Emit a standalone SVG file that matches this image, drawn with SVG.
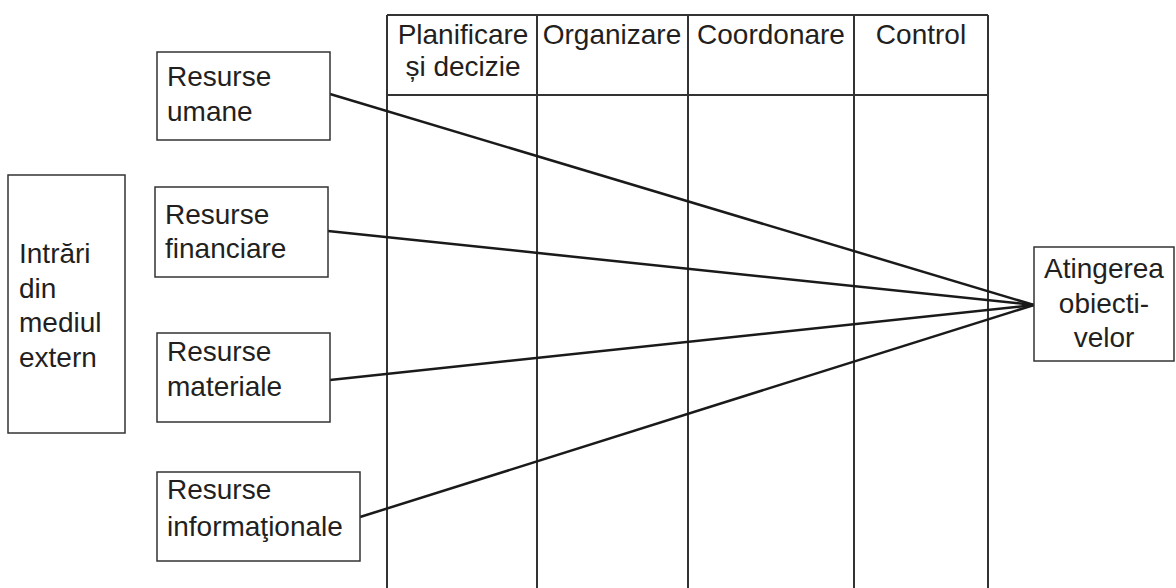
<svg xmlns="http://www.w3.org/2000/svg" width="1176" height="588" viewBox="0 0 1176 588">
<style>
.box{fill:#fff;stroke:#333;stroke-width:1.5}
.t{font-family:"Liberation Sans",Arial,sans-serif;font-size:28px;fill:#231f20}
.c{text-anchor:middle}
.grid{stroke:#333;stroke-width:2;fill:none}
.con{stroke:#1a1a1a;stroke-width:2.5;fill:none}
</style>
<rect width="1176" height="588" fill="#fff"/>
<g id="table">
<line class="grid" x1="387" y1="15" x2="988" y2="15"/>
<line class="grid" x1="387" y1="95" x2="988" y2="95" stroke-width="2.5"/>
<line class="grid" x1="387" y1="15" x2="387" y2="588"/>
<line class="grid" x1="537" y1="15" x2="537" y2="588"/>
<line class="grid" x1="688" y1="15" x2="688" y2="588" stroke-width="2.5"/>
<line class="grid" x1="854" y1="15" x2="854" y2="588"/>
<line class="grid" x1="988" y1="15" x2="988" y2="588"/>
<text class="t c" x="463" y="44">Planificare</text>
<text class="t c" x="463" y="76">și decizie</text>
<text class="t c" x="612" y="44">Organizare</text>
<text class="t c" x="771" y="44">Coordonare</text>
<text class="t c" x="921" y="44">Control</text>
</g>
<g id="connectors">
<line class="con" x1="330" y1="94" x2="1034" y2="305"/>
<line class="con" x1="328" y1="231" x2="1034" y2="305"/>
<line class="con" x1="330" y1="380" x2="1034" y2="305"/>
<line class="con" x1="360" y1="517" x2="1034" y2="305"/>
</g>
<g id="intrari">
<rect class="box" x="8" y="175" width="117" height="258"/>
<text class="t" x="19" y="263">Intrări</text>
<text class="t" x="19" y="298">din</text>
<text class="t" x="19" y="332">mediul</text>
<text class="t" x="19" y="367">extern</text>
</g>
<g id="resurse-umane">
<rect class="box" x="157" y="52" width="173" height="88"/>
<text class="t" x="167" y="86">Resurse</text>
<text class="t" x="167" y="121">umane</text>
</g>
<g id="resurse-financiare">
<rect class="box" x="155" y="187" width="173" height="90"/>
<text class="t" x="165" y="224">Resurse</text>
<text class="t" x="165" y="258">financiare</text>
</g>
<g id="resurse-materiale">
<rect class="box" x="157" y="333" width="173" height="89"/>
<text class="t" x="167" y="361">Resurse</text>
<text class="t" x="167" y="396">materiale</text>
</g>
<g id="resurse-informationale">
<rect class="box" x="157" y="472" width="203" height="89"/>
<text class="t" x="167" y="499">Resurse</text>
<text class="t" x="167" y="536">informaţionale</text>
</g>
<g id="atingerea">
<rect class="box" x="1034" y="247" width="140" height="114"/>
<text class="t c" x="1104" y="278">Atingerea</text>
<text class="t c" x="1104" y="313">obiecti-</text>
<text class="t c" x="1104" y="347">velor</text>
</g>
</svg>
